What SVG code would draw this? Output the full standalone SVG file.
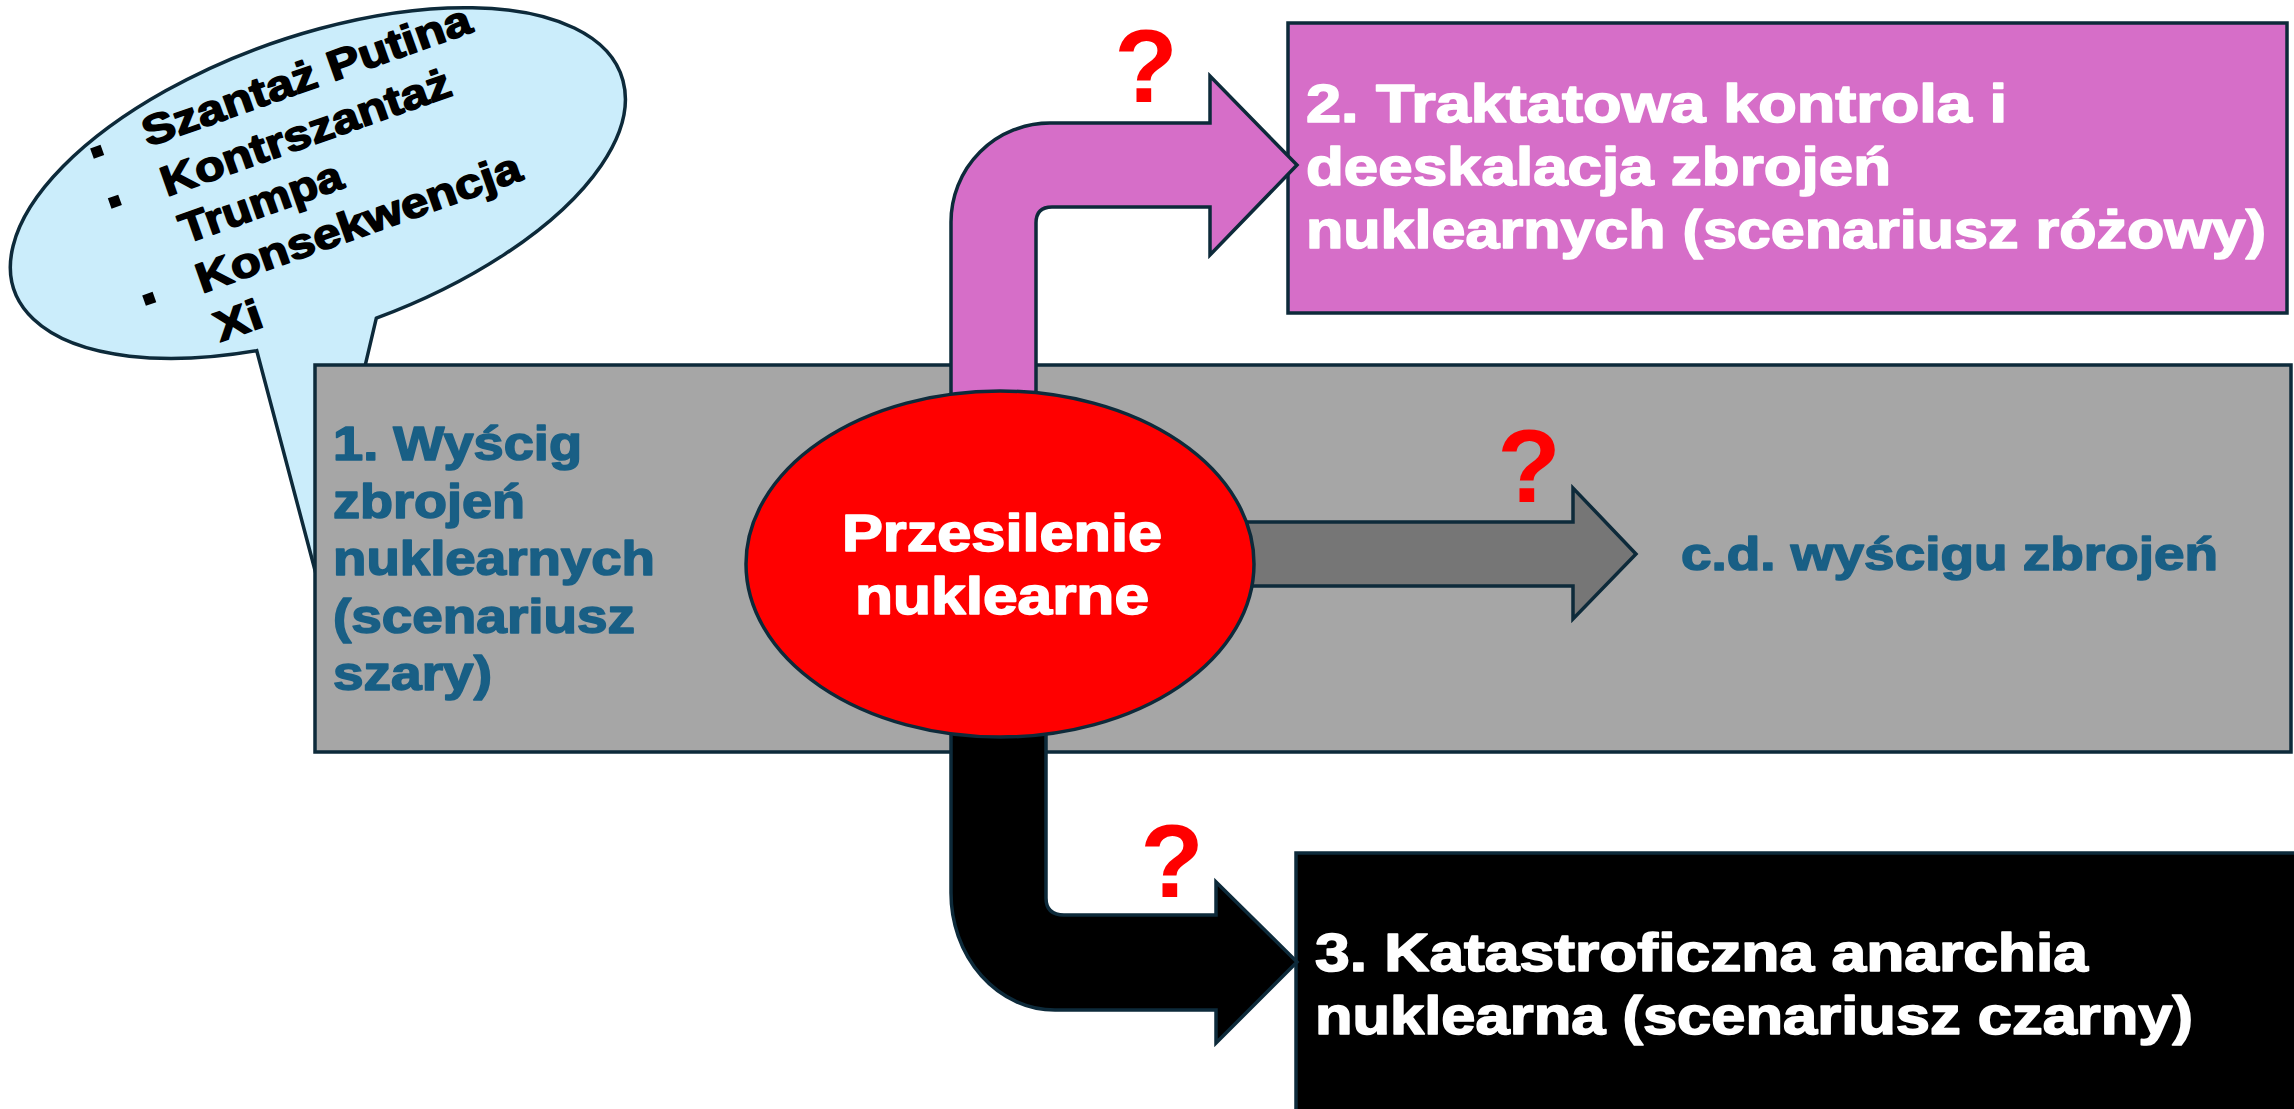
<svg xmlns="http://www.w3.org/2000/svg" width="2294" height="1109" viewBox="0 0 2294 1109">
  <style>
    .edge { stroke: #0D2A3A; stroke-width: 3.5; stroke-linejoin: miter; }
    .t { font-family: "Liberation Sans", Arial, sans-serif; font-weight: bold; stroke-width: 1.6; stroke-linejoin: round; }
    .white { fill: #FFFFFF; stroke: #FFFFFF; }
    .teal { fill: #195F85; stroke: #195F85; }
    .black { fill: #000000; stroke: #000000; }
    .q { font-family: "Liberation Sans", Arial, sans-serif; font-weight: bold; font-size: 104px; fill: #FF0000; text-anchor: middle; }
  </style>
  <rect x="0" y="0" width="2294" height="1109" fill="#FFFFFF"/>

  <g id="bubble">
    <path class="edge" fill="#CBEDFB" d="M376.3,318.2 A322,147 -19.5 1 0 256.7,350.6 L316,574 Z"/>
    <g transform="translate(148,147) rotate(-19.5)">
      <rect x="-55" y="-18" width="11" height="11" fill="#000"/>
      <rect x="-55" y="35" width="11" height="11" fill="#000"/>
      <rect x="-55" y="138" width="11" height="11" fill="#000"/>
      <text class="t black" font-size="42" x="0" y="0" textLength="346" lengthAdjust="spacingAndGlyphs">Szantaż Putina</text>
      <text class="t black" font-size="42" x="1" y="53" textLength="305" lengthAdjust="spacingAndGlyphs">Kontrszantaż</text>
      <text class="t black" font-size="42" x="3" y="104" textLength="170" lengthAdjust="spacingAndGlyphs">Trumpa</text>
      <text class="t black" font-size="42" x="2" y="156" textLength="342" lengthAdjust="spacingAndGlyphs">Konsekwencja</text>
      <text class="t black" font-size="42" x="3" y="208" textLength="48" lengthAdjust="spacingAndGlyphs">Xi</text>
    </g>
  </g>

  <g id="node-gray">
    <rect class="edge" x="315" y="365" width="1976" height="387" fill="#A6A6A6"/>
    <text class="t teal" font-size="48" x="333" y="460" textLength="249" lengthAdjust="spacingAndGlyphs">1. Wyścig</text>
    <text class="t teal" font-size="48" x="333" y="518" textLength="192" lengthAdjust="spacingAndGlyphs">zbrojeń</text>
    <text class="t teal" font-size="48" x="333" y="575" textLength="322" lengthAdjust="spacingAndGlyphs">nuklearnych</text>
    <text class="t teal" font-size="48" x="333" y="633" textLength="302" lengthAdjust="spacingAndGlyphs">(scenariusz</text>
    <text class="t teal" font-size="48" x="333" y="690" textLength="159" lengthAdjust="spacingAndGlyphs">szary)</text>
    <text class="t teal" font-size="47" x="1681" y="570" textLength="537" lengthAdjust="spacingAndGlyphs">c.d. wyścigu zbrojeń</text>
  </g>

  <g id="node-pink">
    <rect class="edge" x="1288" y="23" width="999" height="290" fill="#D66EC8"/>
    <text class="t white" font-size="54" x="1306" y="122" textLength="701" lengthAdjust="spacingAndGlyphs">2. Traktatowa kontrola i</text>
    <text class="t white" font-size="54" x="1306" y="185" textLength="585" lengthAdjust="spacingAndGlyphs">deeskalacja zbrojeń</text>
    <text class="t white" font-size="54" x="1306" y="248" textLength="960" lengthAdjust="spacingAndGlyphs">nuklearnych (scenariusz różowy)</text>
  </g>

  <g id="node-black">
    <rect class="edge" x="1296" y="853" width="1010" height="270" fill="#000000"/>
    <text class="t white" font-size="54" x="1315" y="971" textLength="773" lengthAdjust="spacingAndGlyphs">3. Katastroficzna anarchia</text>
    <text class="t white" font-size="54" x="1315" y="1034" textLength="878" lengthAdjust="spacingAndGlyphs">nuklearna (scenariusz czarny)</text>
  </g>

  <g id="connectors">
    <path class="edge" fill="#D66EC8" d="M951,440 L951,222 A99,99 0 0 1 1050,123 L1210,123 L1210,76 L1297,165 L1210,255 L1210,207 L1052,207 Q1036,207 1036,223 L1036,440 Z"/>
    <path class="edge" fill="#000000" d="M1046,690 L1046,898 Q1046,915 1064,915 L1216,915 L1216,882 L1297,962 L1216,1043 L1216,1010 L1055,1010 A104,117 0 0 1 951,893 L951,690 Z"/>
    <path class="edge" fill="#767676" d="M1200,522 L1573,522 L1573,488 L1636,554 L1573,619 L1573,586 L1200,586 Z"/>
    <text class="q" x="1146" y="102">?</text>
    <text class="q" x="1529" y="502">?</text>
    <text class="q" x="1172" y="897">?</text>
  </g>

  <g id="node-crisis">
    <ellipse class="edge" cx="1000" cy="564" rx="254" ry="173" fill="#FF0000"/>
    <text class="t white" font-size="51" x="1002" y="551" text-anchor="middle" textLength="320" lengthAdjust="spacingAndGlyphs">Przesilenie</text>
    <text class="t white" font-size="51" x="1002" y="614" text-anchor="middle" textLength="294" lengthAdjust="spacingAndGlyphs">nuklearne</text>
  </g>
</svg>
